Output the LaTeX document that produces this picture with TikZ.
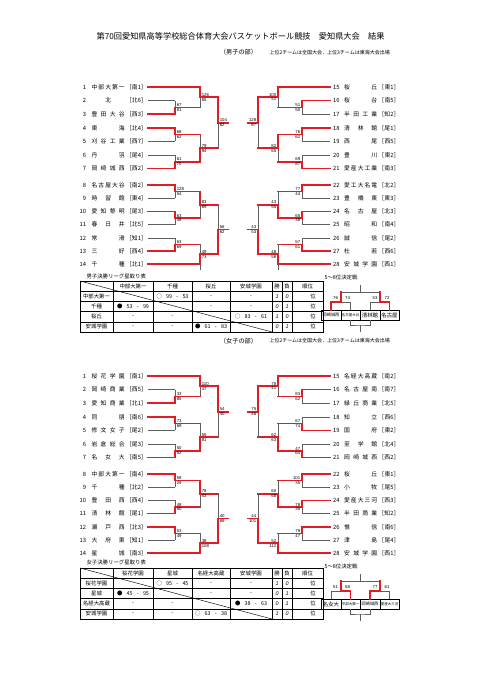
\documentclass[tikz,border=0pt]{standalone}
\usepackage{fontspec}
\setmainfont{Noto Sans CJK JP}
\newfontfamily\lsf{Liberation Sans}
\usetikzlibrary{calc,positioning}

\definecolor{bred}{RGB}{226,28,38}
\definecolor{lgrey}{RGB}{95,95,95}

\newcommand\ttlfont{\fontsize{8.2}{10}\selectfont}
\newcommand\hdfont{\fontsize{6.2}{7}\selectfont}
\newcommand\notefont{\fontsize{5}{6}\selectfont}
\newcommand\tfont{\fontsize{5.8}{7}\selectfont}
\newcommand\sfont{\lsf\fontsize{4.3}{5}\selectfont}
\newcommand\cfont{\fontsize{5.4}{6}\selectfont}
\newcommand\nfont{\lsf\itshape\fontsize{5.4}{6}\selectfont}
\newcommand\fbig{\fontsize{5.4}{6}\selectfont}
\newcommand\fsmall{\fontsize{4.2}{5}\selectfont}
\newcommand\ftiny{\fontsize{3.5}{4}\selectfont}

% spread the characters of a school name over a fixed width
\def\jn#1{\makebox[33pt][s]{\jnloop#1\relax}}
\def\jnloop#1#2\relax{#1\if\relax\detokenize{#2}\relax\else\hfil\expandafter\jnloop\fi#2\relax}
\newcommand\res[3]{\makebox[32pt][s]{#1\hfil #2\hfil -\hfil #3}}

\def\rowy{{0,87,100.6,114.2,127.8,141.4,155,168.6,185,198.2,211.4,224.6,237.8,251,264.2}}

\tikzset{
  win/.style={draw=bred, line width=1.7pt, line cap=rect},
  lose/.style={draw=lgrey, line width=0.6pt},
  lteam/.style={anchor=east, inner sep=0pt, font=\tfont},
  rteam/.style={anchor=west, inner sep=0pt, font=\tfont},
  lsc/.style={anchor=#1 west, xshift=1pt, inner sep=0.6pt, font=\sfont},
  rsc/.style={anchor=#1 east, xshift=-1pt, inner sep=0.6pt, font=\sfont},
  fsc/.style={inner sep=0pt, font=\sfont},
  tline/.style={draw=black, line width=0.45pt},
  tframe/.style={draw=black, line width=0.9pt},
  cell/.style={inner sep=0pt, font=\cfont},
  fbox/.style={draw=black, line width=0.5pt, minimum width=19.5pt, minimum height=10pt, inner sep=0pt}
}

\newcommand\lteam[5]{%
  \pgfmathsetmacro\yy{\rowy[#2]}%
  \node[lteam] (#1) at (147,\yy) {\makebox[8pt][r]{#3}\hspace{5.5pt}\jn{#4}\hspace{1.5pt}［#5］};}
\newcommand\rteam[5]{%
  \pgfmathsetmacro\yy{\rowy[#2]}%
  \node[rteam] (#1) at (331,\yy) {\hspace{2pt}\makebox[8pt][l]{#3}\hspace{3pt}\jn{#4}\hspace{1.5pt}［#5］};}

% name, column, top, bottom, next column, top score, bottom score, winner (1/2), label style
\newcommand\match[9]{%
  \coordinate (#1-t) at (#2 |- #3);
  \coordinate (#1-b) at (#2 |- #4);
  \coordinate (#1) at ($(#1-t)!.5!(#1-b)$);
  \ifnum#8=1 \draw[lose] (#1) -- (#1-b); \draw[win] (#1-t) -- (#1);
  \else \draw[lose] (#1-t) -- (#1); \draw[win] (#1) -- (#1-b); \fi
  \draw[win] (#1) -- (#5 |- #1);
  \node[#9=south] (#1-s1) at (#1) {#6};
  \node[#9=north] (#1-s2) at (#1) {#7};
}

\newcommand\leaguegrid{%
  \draw[tline] (80,0) -- (272,51);
  \foreach \y in {10.2,20.4,30.6,40.8} {\draw[tline] (80,\y) -- (323,\y);}
  \foreach \x in {113,153,192,230,272,282,292} {\draw[tline] (\x,0) -- (\x,51);}
  \draw[tframe] (80,0) rectangle (323,51);
}

\begin{document}
\begin{tikzpicture}[x=1pt,y=-1pt]
\useasboundingbox (0,0) rectangle (481,680);
\fill[white] (0,0) rectangle (481,680);

\coordinate (L1) at (175,0);
\coordinate (L2) at (200,0);
\coordinate (L3) at (218,0);
\coordinate (L4) at (228,0);
\coordinate (R1) at (302,0);
\coordinate (R2) at (278,0);
\coordinate (R3) at (258,0);
\coordinate (R4) at (248,0);

\node[font=\ttlfont] (title) at (240.5,36) {第70回愛知県高等学校総合体育大会バスケットボール競技　愛知県大会　結果};

%%% boys
\node[font=\hdfont] (mhead) at (238.5,52.5) {（男子の部）};
\node[font=\notefont, anchor=west] (mnote) at (266,52.5) {上位2チームは全国大会，上位3チームは東海大会出場};

\lteam{m1}{1}{1}{中部大第一}{南1}
\lteam{m2}{2}{2}{\hfill 北\hfill}{北6}
\lteam{m3}{3}{3}{豊田大谷}{西3}
\lteam{m4}{4}{4}{東海}{北4}
\lteam{m5}{5}{5}{刈谷工業}{西7}
\lteam{m6}{6}{6}{丹羽}{尾4}
\lteam{m7}{7}{7}{岡崎城西}{西2}
\lteam{m8}{8}{8}{名古屋大谷}{南2}
\lteam{m9}{9}{9}{時習館}{東4}
\lteam{m10}{10}{10}{愛知黎明}{尾3}
\lteam{m11}{11}{11}{春日井}{北5}
\lteam{m12}{12}{12}{常滑}{知1}
\lteam{m13}{13}{13}{三好}{西4}
\lteam{m14}{14}{14}{千種}{北1}
\rteam{m15}{1}{15}{桜丘}{東1}
\rteam{m16}{2}{16}{桜台}{南5}
\rteam{m17}{3}{17}{半田工業}{知2}
\rteam{m18}{4}{18}{清林館}{尾1}
\rteam{m19}{5}{19}{西尾}{西5}
\rteam{m20}{6}{20}{豊川}{東2}
\rteam{m21}{7}{21}{愛産大工業}{南3}
\rteam{m22}{8}{22}{愛工大名電}{北2}
\rteam{m23}{9}{23}{豊橋東}{東3}
\rteam{m24}{10}{24}{名古屋}{北3}
\rteam{m25}{11}{25}{昭和}{南4}
\rteam{m26}{12}{26}{誠信}{尾2}
\rteam{m27}{13}{27}{杜若}{西6}
\rteam{m28}{14}{28}{安城学園}{西1}

\foreach \t/\c/\s in {m1/L2/win,m2/L1/lose,m3/L1/win,m4/L1/win,m5/L1/lose,m6/L1/lose,m7/L1/win,
  m8/L1/win,m9/L1/lose,m10/L1/win,m11/L1/lose,m12/L1/lose,m13/L1/win,m14/L2/win}
  {\draw[\s] ([xshift=1pt]\t.east) -- (\c |- \t);}
\foreach \t/\c/\s in {m15/R2/win,m16/R1/win,m17/R1/lose,m18/R1/win,m19/R1/lose,m20/R1/lose,m21/R1/win,
  m22/R1/win,m23/R1/lose,m24/R1/win,m25/R1/lose,m26/R1/lose,m27/R1/win,m28/R2/win}
  {\draw[\s] ([xshift=-1pt]\t.west) -- (\c |- \t);}

\match{a1}{L1}{m2}{m3}{L2}{67}{81}{2}{lsc}
\match{a2}{L2}{m1}{a1}{L3}{126}{65}{1}{lsc}
\match{a3}{L1}{m4}{m5}{L2}{68}{62}{1}{lsc}
\match{a4}{L1}{m6}{m7}{L2}{61}{70}{2}{lsc}
\match{a5}{L2}{a3}{a4}{L3}{79}{94}{2}{lsc}
\match{a6}{L3}{a2}{a5}{L4}{104}{62}{1}{lsc}

\match{b1}{L1}{m8}{m9}{L2}{128}{54}{1}{lsc}
\match{b2}{L1}{m10}{m11}{L2}{63}{48}{1}{lsc}
\match{b3}{L2}{b1}{b2}{L3}{83}{69}{1}{lsc}
\match{b4}{L1}{m12}{m13}{L2}{63}{69}{2}{lsc}
\match{b5}{L2}{b4}{m14}{L3}{49}{73}{2}{lsc}
\match{b6}{L3}{b3}{b5}{L4}{56}{62}{2}{lsc}
\draw[lose] (L2 |- m14) -- ++(0,6);

\match{c1}{R1}{m16}{m17}{R2}{51}{50}{1}{rsc}
\match{c2}{R2}{m15}{c1}{R3}{100}{51}{1}{rsc}
\match{c3}{R1}{m18}{m19}{R2}{76}{62}{1}{rsc}
\match{c4}{R1}{m20}{m21}{R2}{69}{87}{2}{rsc}
\match{c5}{R2}{c3}{c4}{R3}{82}{65}{1}{rsc}
\match{c6}{R3}{c2}{c5}{R4}{128}{87}{1}{rsc}

\match{d1}{R1}{m22}{m23}{R2}{77}{44}{1}{rsc}
\match{d2}{R1}{m24}{m25}{R2}{65}{38}{1}{rsc}
\match{d3}{R2}{d1}{d2}{R3}{43}{55}{2}{rsc}
\match{d4}{R1}{m26}{m27}{R2}{57}{61}{2}{rsc}
\match{d5}{R2}{d4}{m28}{R3}{48}{58}{2}{rsc}
\match{d6}{R3}{d3}{d5}{R4}{43}{53}{2}{rsc}
\draw[lose] (R2 |- m28) -- ++(0,6);

% boys league
\node[font=\cfont, anchor=west] (mlt) at (83,276) {男子決勝リーグ星取り表};
\begin{scope}[shift={(0,281)}]
\leaguegrid
\foreach \t/\x [count=\i] in {中部大第一/133,千種/172.5,桜丘/211,安城学園/251,勝/277,負/287,順位/307.5}
  {\node[cell] (mh\i) at (\x,5.1) {\t};}
\foreach \t/\a/\b/\c/\d/\w/\l [count=\i] in {
  中部大第一/{}/{\res{○}{99}{53}}/-/-/1/0,
  千種/{\res{●}{53}{99}}/{}/-/-/0/1,
  桜丘/-/-/{}/{\res{○}{83}{61}}/1/0,
  安城学園/-/-/{\res{●}{61}{83}}/{}/0/1}{
  \pgfmathsetmacro\yy{5.1+10.2*\i}
  \node[cell] (mr\i) at (96.5,\yy) {\t};
  \node[cell] (mr\i-a) at (133,\yy) {\a};
  \node[cell] (mr\i-b) at (172.5,\yy) {\b};
  \node[cell] (mr\i-c) at (211,\yy) {\c};
  \node[cell] (mr\i-d) at (251,\yy) {\d};
  \node[cell, font=\nfont] (mr\i-w) at (277,\yy) {\w};
  \node[cell, font=\nfont] (mr\i-l) at (287,\yy) {\l};
  \node[cell, anchor=east] (mr\i-r) at (316,\yy) {位};
}
\end{scope}

% boys 5-8
\node[font=\cfont, anchor=west] (mft) at (321,277) {5～8位決定戦};
\node[fbox, font=\fsmall] (f1) at (331,315) {岡崎城西};
\node[fbox, font=\ftiny] (f2) at (350.5,315) {名古屋大谷};
\node[fbox, font=\fbig] (f3) at (370,315) {清林館};
\node[fbox, font=\fbig] (f4) at (389.5,315) {名古屋};
\coordinate (fl) at (340.75,302);
\coordinate (fr) at (379.75,302);
\coordinate (ft) at (360.25,292);
\coordinate (fb) at (360.25,325);
\draw[lose] (f2.north) |- (fl);
\draw[lose] (f3.north) |- (fr);
\draw[lose] (fl |- ft) -- (fr |- ft);
\draw[lose] (ft) -- ++(0,-7);
\draw[win] (f1.north) |- (fl) -- (fl |- ft);
\draw[win] (f4.north) |- (fr) -- (fr |- ft);
\draw[lose] (f2.south) |- (fb) -| (f3.south);
\draw[lose] (fb) -- ++(0,7);
\node[fsc] (fs1) at (335.5,298) {76};
\node[fsc] (fs2) at (347.5,298) {74};
\node[fsc] (fs3) at (375,298) {53};
\node[fsc] (fs4) at (387,298) {72};

%%% girls
\begin{scope}[shift={(0,289)}]
\node[font=\hdfont] (whead) at (238.5,52.5) {（女子の部）};
\node[font=\notefont, anchor=west] (wnote) at (266,51.5) {上位2チームは全国大会，上位3チームは東海大会出場};

\lteam{w1}{1}{1}{桜花学園}{南1}
\lteam{w2}{2}{2}{岡崎商業}{西5}
\lteam{w3}{3}{3}{愛知商業}{北1}
\lteam{w4}{4}{4}{同朋}{南6}
\lteam{w5}{5}{5}{修文女子}{尾2}
\lteam{w6}{6}{6}{岩倉総合}{尾3}
\lteam{w7}{7}{7}{名女大}{南5}
\lteam{w8}{8}{8}{中部大第一}{南4}
\lteam{w9}{9}{9}{千種}{北2}
\lteam{w10}{10}{10}{豊田西}{西4}
\lteam{w11}{11}{11}{清林館}{尾1}
\lteam{w12}{12}{12}{瀬戸西}{北3}
\lteam{w13}{13}{13}{大府東}{知1}
\lteam{w14}{14}{14}{星城}{南3}
\rteam{w15}{1}{15}{名経大高蔵}{南2}
\rteam{w16}{2}{16}{名古屋南}{南7}
\rteam{w17}{3}{17}{緑丘商業}{北5}
\rteam{w18}{4}{18}{知立}{西6}
\rteam{w19}{5}{19}{国府}{東2}
\rteam{w20}{6}{20}{至学館}{北4}
\rteam{w21}{7}{21}{岡崎城西}{西2}
\rteam{w22}{8}{22}{桜丘}{東1}
\rteam{w23}{9}{23}{小牧}{尾5}
\rteam{w24}{10}{24}{愛産大三河}{西3}
\rteam{w25}{11}{25}{半田商業}{知2}
\rteam{w26}{12}{26}{惟信}{南6}
\rteam{w27}{13}{27}{津島}{尾4}
\rteam{w28}{14}{28}{安城学園}{西1}

\foreach \t/\c/\s in {w1/L2/win,w2/L1/lose,w3/L1/win,w4/L1/win,w5/L1/lose,w6/L1/lose,w7/L1/win,
  w8/L1/win,w9/L1/lose,w10/L1/lose,w11/L1/win,w12/L1/win,w13/L1/lose,w14/L2/win}
  {\draw[\s] ([xshift=1pt]\t.east) -- (\c |- \t);}
\foreach \t/\c/\s in {w15/R2/win,w16/R1/win,w17/R1/lose,w18/R1/lose,w19/R1/win,w20/R1/lose,w21/R1/win,
  w22/R1/win,w23/R1/lose,w24/R1/win,w25/R1/lose,w26/R1/win,w27/R1/lose,w28/R2/win}
  {\draw[\s] ([xshift=-1pt]\t.west) -- (\c |- \t);}

\match{wa1}{L1}{w2}{w3}{L2}{33}{85}{2}{lsc}
\match{wa2}{L2}{w1}{wa1}{L3}{110}{37}{1}{lsc}
\match{wa3}{L1}{w4}{w5}{L2}{73}{69}{1}{lsc}
\match{wa4}{L1}{w6}{w7}{L2}{50}{52}{2}{lsc}
\match{wa5}{L2}{wa3}{wa4}{L3}{55}{81}{2}{lsc}
\match{wa6}{L3}{wa2}{wa5}{L4}{54}{40}{1}{lsc}

\match{wb1}{L1}{w8}{w9}{L2}{59}{29}{1}{lsc}
\match{wb2}{L1}{w10}{w11}{L2}{48}{50}{2}{lsc}
\match{wb3}{L2}{wb1}{wb2}{L3}{78}{53}{1}{lsc}
\match{wb4}{L1}{w12}{w13}{L2}{53}{49}{1}{lsc}
\match{wb5}{L2}{wb4}{w14}{L3}{38}{108}{2}{lsc}
\match{wb6}{L3}{wb3}{wb5}{L4}{40}{89}{2}{lsc}

\match{wc1}{R1}{w16}{w17}{R2}{83}{62}{1}{rsc}
\match{wc2}{R2}{w15}{wc1}{R3}{78}{41}{1}{rsc}
\match{wc3}{R1}{w18}{w19}{R2}{67}{74}{2}{rsc}
\match{wc4}{R1}{w20}{w21}{R2}{47}{64}{2}{rsc}
\match{wc5}{R2}{wc3}{wc4}{R3}{62}{63}{2}{rsc}
\match{wc6}{R3}{wc2}{wc5}{R4}{75}{46}{1}{rsc}

\match{wd1}{R1}{w22}{w23}{R2}{101}{35}{1}{rsc}
\match{wd2}{R1}{w24}{w25}{R2}{78}{35}{1}{rsc}
\match{wd3}{R2}{wd1}{wd2}{R3}{60}{68}{2}{rsc}
\match{wd4}{R1}{w26}{w27}{R2}{79}{47}{1}{rsc}
\match{wd5}{R2}{wd4}{w28}{R3}{52}{112}{2}{rsc}
\match{wd6}{R3}{wd3}{wd5}{R4}{44}{101}{2}{rsc}

% girls league
\node[font=\cfont, anchor=west] (wlt) at (83,273) {女子決勝リーグ星取り表};
\begin{scope}[shift={(0,279)}]
\leaguegrid
\foreach \t/\x [count=\i] in {桜花学園/133,星城/172.5,名経大高蔵/211,安城学園/251,勝/277,負/287,順位/307.5}
  {\node[cell] (wh\i) at (\x,5.1) {\t};}
\foreach \t/\a/\b/\c/\d/\w/\l [count=\i] in {
  桜花学園/{}/{\res{○}{95}{45}}/-/-/1/0,
  星城/{\res{●}{45}{95}}/{}/-/-/0/1,
  名経大高蔵/-/-/{}/{\res{●}{38}{63}}/0/1,
  安城学園/-/-/{\res{○}{63}{38}}/{}/1/0}{
  \pgfmathsetmacro\yy{5.1+10.2*\i}
  \node[cell] (wr\i) at (96.5,\yy) {\t};
  \node[cell] (wr\i-a) at (133,\yy) {\a};
  \node[cell] (wr\i-b) at (172.5,\yy) {\b};
  \node[cell] (wr\i-c) at (211,\yy) {\c};
  \node[cell] (wr\i-d) at (251,\yy) {\d};
  \node[cell, font=\nfont] (wr\i-w) at (277,\yy) {\w};
  \node[cell, font=\nfont] (wr\i-l) at (287,\yy) {\l};
  \node[cell, anchor=east] (wr\i-r) at (316,\yy) {位};
}
\end{scope}

% girls 5-8
\node[font=\cfont, anchor=west] (wft) at (321,277) {5～8位決定戦};
\node[fbox, font=\fbig] (g1) at (331,315) {名女大};
\node[fbox, font=\ftiny] (g2) at (350.5,315) {中部大第一};
\node[fbox, font=\fsmall] (g3) at (370,315) {岡崎城西};
\node[fbox, font=\ftiny] (g4) at (389.5,315) {愛産大三河};
\coordinate (gl) at (340.75,302);
\coordinate (gr) at (379.75,302);
\coordinate (gt) at (360.25,292);
\coordinate (gb) at (360.25,325);
\draw[lose] (g1.north) |- (gl);
\draw[lose] (g4.north) |- (gr);
\draw[lose] (gl |- gt) -- (gr |- gt);
\draw[lose] (gt) -- ++(0,-7);
\draw[win] (g2.north) |- (gl) -- (gl |- gt);
\draw[win] (g3.north) |- (gr) -- (gr |- gt);
\draw[lose] (g2.south) |- (gb) -| (g3.south);
\draw[lose] (gb) -- ++(0,7);
\node[fsc] (gs1) at (335.5,298) {51};
\node[fsc] (gs2) at (347.5,298) {58};
\node[fsc] (gs3) at (375,298) {77};
\node[fsc] (gs4) at (387,298) {61};
\end{scope}

\end{tikzpicture}
\end{document}
